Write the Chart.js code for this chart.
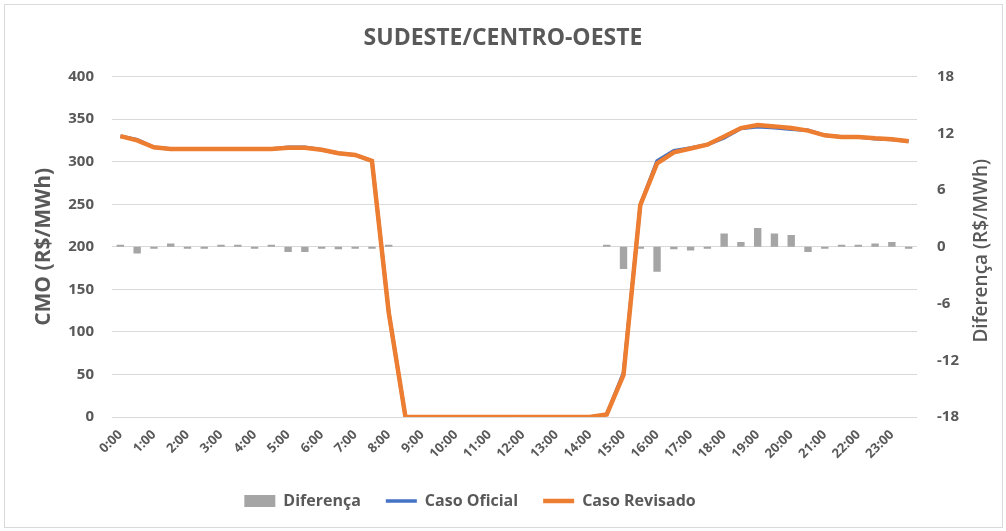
<!DOCTYPE html>
<html>
<head>
<meta charset="utf-8">
<script src="https://cdn.jsdelivr.net/npm/chart.js@4.4.1/dist/chart.umd.min.js"></script>
<style>
	html, body { margin: 0; padding: 0; background: #fff; overflow: hidden; }
	#wrap { position: relative; width: 1006px; height: 531px; }
	#borda { position: absolute; left: 4px; top: 4px; right: 3px; bottom: 3px; border: 1.5px solid #d9d9d9; pointer-events: none; }
</style>
</head>
<body>
<div id="wrap">
	<canvas id="main-chart"></canvas>
	<div id="borda"></div>
</div>
<script>
// horarios (meia em meia hora)
const horarios = [
	'0:00','0:30','1:00','1:30','2:00','2:30','3:00','3:30','4:00','4:30','5:00','5:30',
	'6:00','6:30','7:00','7:30','8:00','8:30','9:00','9:30','10:00','10:30','11:00','11:30',
	'12:00','12:30','13:00','13:30','14:00','14:30','15:00','15:30','16:00','16:30','17:00','17:30',
	'18:00','18:30','19:00','19:30','20:00','20:30','21:00','21:30','22:00','22:30','23:00','23:30'
];

// CMO (R$/MWh)
const casoOficial = [
	330, 326, 317, 315, 315, 315, 315, 315, 315, 315, 317, 317,
	314, 310, 308, 301, 123, 0, 0, 0, 0, 0, 0, 0,
	0, 0, 0, 0, 0, 3, 52, 249, 301, 313, 316, 320,
	328, 339, 341, 340, 338, 337, 331, 329, 329, 327, 326, 324
];
const casoRevisado = [
	330, 325, 317, 315, 315, 315, 315, 315, 315, 315, 316.5, 316.5,
	314, 310, 308, 301, 123, 0, 0, 0, 0, 0, 0, 0,
	0, 0, 0, 0, 0, 3, 49.5, 249, 298, 311, 315.5, 320,
	329.5, 339.5, 343, 341.5, 339.5, 336.5, 331, 329, 329, 327.5, 326.5, 324
];

// Diferença (R$/MWh)
const diferenca = [
	0.1, -0.7, -0.1, 0.35, -0.1, -0.1, 0.1, 0.1, -0.1, 0.1, -0.55, -0.55,
	-0.2, -0.25, -0.1, -0.1, 0.1, null, null, null, null, null, null, null,
	null, null, null, null, null, 0.1, -2.35, -0.2, -2.65, -0.25, -0.4, -0.1,
	1.4, 0.5, 2.0, 1.4, 1.25, -0.55, -0.1, 0.1, 0.1, 0.35, 0.5, -0.05
];

const ticksEsquerda = [0, 50, 100, 150, 200, 250, 300, 350, 400];
const ticksDireita = [-18, -12, -6, 0, 6, 12, 18];

const cinzaTexto = '#595959';
const fonte = '"Open Sans", Lato, sans-serif';

// titulo do eixo direito lendo de baixo para cima
const tituloDireito = {
	id: 'tituloDireito',
	afterDraw(chart) {
		const ctx = chart.ctx;
		const area = chart.chartArea;
		ctx.save();
		ctx.translate(982, (area.top + area.bottom) / 2 + 4);
		ctx.rotate(-Math.PI / 2);
		ctx.font = '600 19px ' + fonte;
		ctx.fillStyle = cinzaTexto;
		ctx.textAlign = 'center';
		ctx.textBaseline = 'middle';
		ctx.fillText('Diferença (R$/MWh)', 0, 0);
		ctx.restore();
	}
};

// legenda um pouco deslocada para a esquerda, como no original
const moveLegenda = {
	id: 'moveLegenda',
	afterLayout(chart) {
		chart.legend.left -= 33;
		chart.legend.right -= 33;
	}
};

function make() {
	var ctx = document.getElementById('main-chart');
	return new Chart(ctx, {
		type: 'bar',
		data: {
			labels: horarios,
			datasets: [
				{
					type: 'bar',
					label: 'Diferença',
					data: diferenca,
					yAxisID: 'y1',
					backgroundColor: '#a5a5a5',
					borderWidth: 0,
					barPercentage: 0.44,
					categoryPercentage: 1,
					minBarLength: 2,
					pointStyle: 'rect',
					order: 3
				},
				{
					type: 'line',
					label: 'Caso Oficial',
					data: casoOficial,
					yAxisID: 'y',
					borderColor: '#4472c4',
					backgroundColor: '#4472c4',
					borderWidth: 3.5,
					pointRadius: 0,
					tension: 0,
					pointStyle: 'line',
					order: 2
				},
				{
					type: 'line',
					label: 'Caso Revisado',
					data: casoRevisado,
					yAxisID: 'y',
					borderColor: '#ed7d31',
					backgroundColor: '#ed7d31',
					borderWidth: 4.5,
					pointRadius: 0,
					tension: 0,
					pointStyle: 'line',
					order: 1
				}
			]
		},
		options: {
			responsive: true,
			maintainAspectRatio: false,
			animation: false,
			layout: { padding: { left: 0, right: 0, top: 0, bottom: 12 } },
			plugins: {
				tooltip: { enabled: false },
				title: {
					display: true,
					text: 'SUDESTE/CENTRO-OESTE',
					color: cinzaTexto,
					font: { family: fonte, size: 23, weight: 'bold' },
					padding: { top: 25, bottom: 24 }
				},
				legend: {
					position: 'bottom',
					labels: {
						usePointStyle: true,
						pointStyleWidth: 31,
						boxHeight: 12,
						padding: 25,
						color: cinzaTexto,
						font: { family: fonte, size: 16, weight: 'bold' },
						sort: (a, b) => a.datasetIndex - b.datasetIndex
					}
				}
			},
			scales: {
				x: {
					grid: { display: false },
					border: { display: false },
					afterFit(scale) { scale.height = 51; },
					ticks: {
						autoSkip: false,
						maxRotation: 45,
						minRotation: 45,
						padding: 2,
						color: cinzaTexto,
						font: { family: fonte, size: 13, weight: 'bold' },
						callback(value, index) {
							return index % 2 === 0 ? horarios[index] : '';
						}
					}
				},
				y: {
					position: 'left',
					min: 0,
					max: 400,
					afterFit(scale) { scale.width = 112; },
					afterBuildTicks(scale) { scale.ticks = ticksEsquerda.map(v => ({ value: v })); },
					grid: { color: '#d9d9d9', lineWidth: 1, drawTicks: false },
					border: { display: false },
					ticks: {
						padding: 18,
						color: cinzaTexto,
						font: { family: fonte, size: 15, weight: 'bold' }
					},
					title: {
						display: true,
						text: 'CMO (R$/MWh)',
						color: cinzaTexto,
						font: { family: fonte, size: 21, weight: 'bold' },
						padding: { top: 31, bottom: 0 }
					}
				},
				y1: {
					position: 'right',
					min: -18,
					max: 18,
					afterFit(scale) { scale.width = 89; },
					afterBuildTicks(scale) { scale.ticks = ticksDireita.map(v => ({ value: v })); },
					grid: { display: false, drawTicks: false },
					border: { display: false },
					ticks: {
						padding: 20,
						color: cinzaTexto,
						font: { family: fonte, size: 15, weight: 'bold' }
					}
				}
			}
		},
		plugins: [tituloDireito, moveLegenda]
	});
}

make();
</script>
</body>
</html>
